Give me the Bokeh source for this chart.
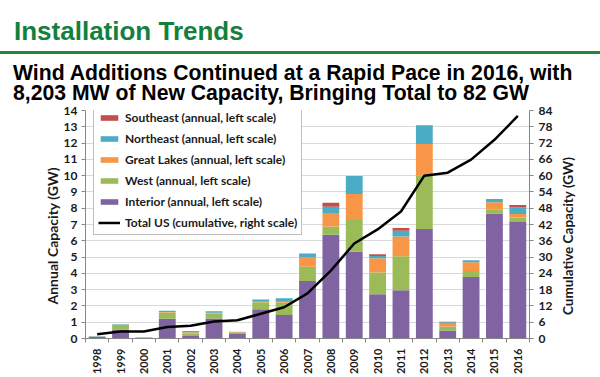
import math
from bokeh.plotting import figure
from bokeh.layouts import column, row
from bokeh.models import (Range1d, LinearAxis, Legend, LegendItem, Div,
                          FixedTicker, SingleIntervalTicker)
from bokeh.embed import file_html
from bokeh.resources import INLINE

years = list(range(1998, 2017))
interior = [0.10, 0.55, 0.05, 1.22, 0.15, 1.23, 0.27, 1.80, 1.45, 3.53, 6.37, 5.32, 2.71, 2.96, 6.73, 0.49, 3.78, 7.68, 7.15]
west = [0.03, 0.28, 0.02, 0.38, 0.15, 0.30, 0.12, 0.43, 0.75, 0.88, 0.51, 1.95, 1.34, 2.09, 3.27, 0.25, 0.37, 0.25, 0.28]
great_lakes = [0.00, 0.02, 0.00, 0.03, 0.08, 0.05, 0.02, 0.07, 0.05, 0.60, 0.82, 1.60, 0.88, 1.21, 1.95, 0.16, 0.53, 0.43, 0.21]
northeast = [0.01, 0.03, 0.00, 0.07, 0.02, 0.10, 0.00, 0.09, 0.22, 0.21, 0.39, 1.11, 0.14, 0.35, 1.15, 0.10, 0.12, 0.20, 0.41]
southeast = [0.00, 0.00, 0.00, 0.00, 0.05, 0.00, 0.00, 0.00, 0.00, 0.00, 0.25, 0.00, 0.10, 0.17, 0.00, 0.03, 0.00, 0.00, 0.15]
cumulative = [1.6, 2.6, 2.6, 4.2, 4.7, 6.3, 6.7, 9.1, 11.5, 16.6, 25.0, 35.0, 40.2, 46.8, 60.0, 61.1, 65.9, 73.2, 82.0]

series = ["interior", "west", "great_lakes", "northeast", "southeast"]
series_labels = ["Interior (annual, left scale)", "West (annual, left scale)",
                 "Great Lakes (annual, left scale)", "Northeast (annual, left scale)",
                 "Southeast (annual, left scale)"]
colors = ["#8064A2", "#9BBB59", "#F79646", "#4BACC6", "#C0504D"]
line_label = "Total US (cumulative, right scale)"

title_text = "Installation Trends"
subtitle_1 = "Wind Additions Continued at a Rapid Pace in 2016, with"
subtitle_2 = "8,203 MW of New Capacity, Bringing Total to 82 GW"
left_label = "Annual Capacity (GW)"
right_label = "Cumulative Capacity (GW)"

TOP_H = 104
CH = 377 - TOP_H
LW = 60   # left label strip
RW = 40   # right label strip

# ---- header (HTML) ----
header_html = f"""
<div style="position:relative;width:600px;height:{TOP_H}px;font-family:'Liberation Sans',Arial,sans-serif;font-weight:bold;margin:0;padding:0;">
  <div style="position:absolute;left:14px;top:18px;font-size:26px;line-height:26px;color:#138040;white-space:nowrap;">{title_text}</div>
  <div style="position:absolute;left:0px;top:51px;width:600px;height:2.5px;background:#22883C;"></div>
  <div style="position:absolute;left:13px;top:63px;font-size:21.2px;line-height:19.5px;color:#000;white-space:nowrap;">{subtitle_1}<br>{subtitle_2}</div>
</div>
"""
head = Div(text=header_html, width=600, height=TOP_H, margin=0)

def rot_label(text, cx, cy, w, size):
    html = f"""
<div style="position:relative;width:{w}px;height:{CH}px;margin:0;padding:0;">
  <div style="position:absolute;left:{cx}px;top:{cy}px;transform:translate(-50%,-50%) rotate(-90deg);
       white-space:nowrap;font-family:Lato,sans-serif;font-weight:bold;font-size:{size};line-height:16px;color:#1a1a1a;">{text}</div>
</div>"""
    return Div(text=html, width=w, height=CH, margin=0)

left_div = rot_label(left_label, 53, 236 - TOP_H, LW, "14px")
right_div = rot_label(right_label, 568 - (600 - RW), 236 - TOP_H, RW, "13.5px")

# ---- chart figure ----
data = dict(year=years, interior=interior, west=west, great_lakes=great_lakes,
            northeast=northeast, southeast=southeast, cumulative=cumulative)

p = figure(width=600 - LW - RW, height=CH, output_backend="svg", toolbar_location=None,
           x_range=Range1d(years[0] - 0.5, years[-1] + 0.5), y_range=Range1d(0, 14),
           min_border_left=85 - LW, min_border_right=(600 - RW) - 529,
           min_border_top=6, min_border_bottom=39, margin=0)
p.extra_y_ranges = {"right": Range1d(0, 84)}
p.outline_line_color = None

bars = p.vbar_stack(series, x="year", width=0.72, color=colors, source=data, line_color=None)
line = p.line(x="year", y="cumulative", source=data, y_range_name="right",
              line_color="black", line_width=2.5)

tick_font = "Lato"
# x axis
xa = p.xaxis[0]
xa.ticker = FixedTicker(ticks=years, minor_ticks=[y + 0.5 for y in [years[0] - 1] + years])
xa.major_tick_line_color = None
xa.minor_tick_out = 4
xa.minor_tick_in = 0
xa.minor_tick_line_color = "#868686"
xa.axis_line_color = "#868686"
xa.major_label_orientation = math.pi / 2
xa.major_label_text_font = tick_font
xa.major_label_text_font_style = "bold"
xa.major_label_text_font_size = "11px"
xa.major_label_text_color = "#1a1a1a"
xa.major_label_standoff = 4

# left axis
ya = p.yaxis[0]
ya.ticker = SingleIntervalTicker(interval=1)
ya.axis_line_color = "#868686"
ya.major_tick_out = 4
ya.major_tick_in = 0
ya.major_tick_line_color = "#868686"
ya.minor_tick_line_color = None
ya.major_label_text_font = tick_font
ya.major_label_text_font_style = "bold"
ya.major_label_text_font_size = "12px"
ya.major_label_text_color = "#1a1a1a"
ya.major_label_standoff = 4

ra = LinearAxis(y_range_name="right", ticker=SingleIntervalTicker(interval=6))
ra.axis_line_color = "#868686"
ra.major_tick_out = 4
ra.major_tick_in = 0
ra.major_tick_line_color = "#868686"
ra.minor_tick_line_color = None
ra.major_label_text_font = tick_font
ra.major_label_text_font_style = "bold"
ra.major_label_text_font_size = "12px"
ra.major_label_text_color = "#1a1a1a"
p.add_layout(ra, "right")

p.xgrid.visible = False
p.ygrid.grid_line_color = "#D9D9D9"
p.ygrid.grid_line_width = 1
p.ygrid.ticker = SingleIntervalTicker(interval=1)

items = [LegendItem(label=series_labels[i], renderers=[bars[i]]) for i in range(4, -1, -1)]
items.append(LegendItem(label=line_label, renderers=[line]))
legend = Legend(items=items, location=(8, 103))
legend.margin = 0
legend.padding = 4
legend.spacing = 6
legend.glyph_width = 22
legend.glyph_height = 7
legend.label_height = 14
legend.label_standoff = 5
legend.label_text_font = tick_font
legend.label_text_font_style = "bold"
legend.label_text_font_size = "12px"
legend.label_text_color = "#1a1a1a"
legend.border_line_color = "#7F7F7F"
legend.border_line_width = 1
legend.background_fill_color = "white"
legend.background_fill_alpha = 1
p.add_layout(legend, "center")

layout = column(head, row(left_div, p, right_div, spacing=0), spacing=0)
open("out.html", "w").write(file_html(layout, INLINE))
